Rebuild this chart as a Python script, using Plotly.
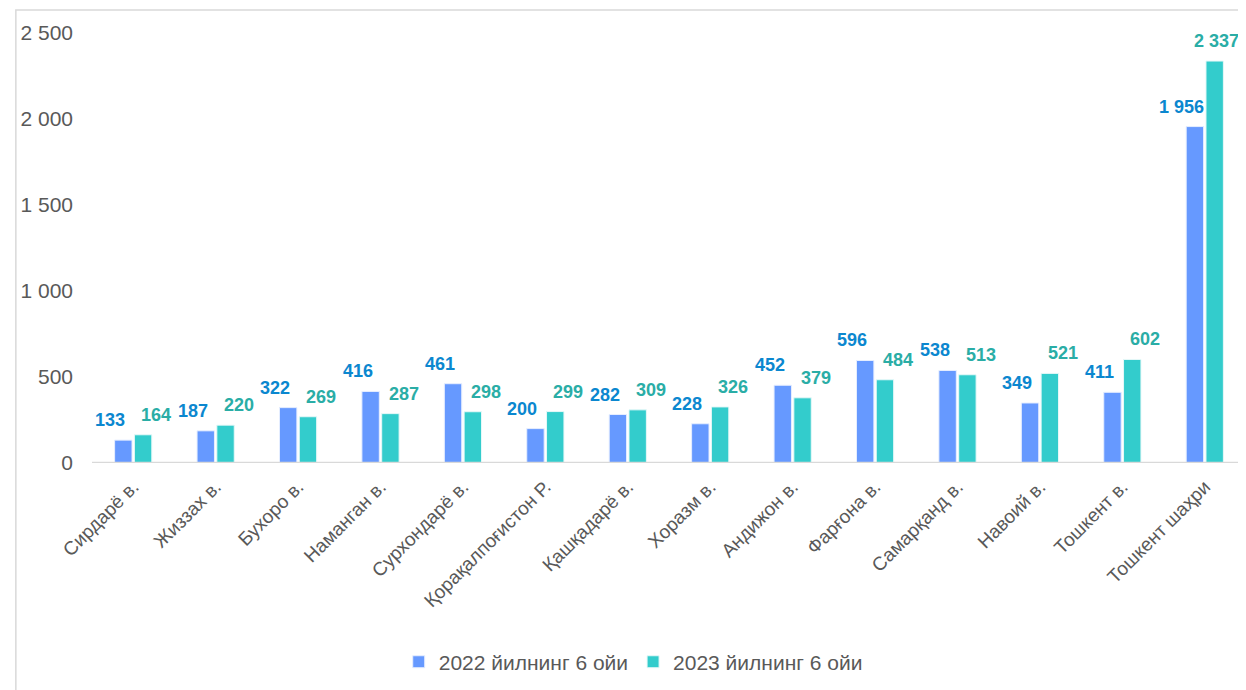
import plotly.graph_objects as go

categories = ["Сирдарё в.", "Жиззах в.", "Бухоро в.", "Наманган в.", "Сурхондарё в.",
              "Қорақалпоғистон Р.", "Қашқадарё в.", "Хоразм в.", "Андижон в.", "Фарғона в.",
              "Самарқанд в.", "Навоий в.", "Тошкент в.", "Тошкент шаҳри"]
values_2022 = [133, 187, 322, 416, 461, 200, 282, 228, 452, 596, 538, 349, 411, 1956]
values_2023 = [164, 220, 269, 287, 298, 299, 309, 326, 379, 484, 513, 521, 602, 2337]
series_names = ["2022 йилнинг 6 ойи", "2023 йилнинг 6 ойи"]
y_ticks = [0, 500, 1000, 1500, 2000, 2500]

FONT = "Liberation Sans, Arial, sans-serif"
BLUE_LBL = "#0B87CF"
TEAL_LBL = "#2AADA6"

def fmt(v):
    return f"{v:,}".replace(",", " ")

fig = go.Figure()
fig.add_trace(go.Bar(
    x=categories, y=values_2022, name=series_names[0],
    marker=dict(color="#6699FF", line=dict(color="#E6EEFF", width=1)),
))
fig.add_trace(go.Bar(
    x=categories, y=values_2023, name=series_names[1],
    marker=dict(color="#33CCCC", line=dict(color="#E6F8F8", width=1)),
))

n = len(categories)
annotations = []
for i, (cat, v) in enumerate(zip(categories, values_2022)):
    annotations.append(dict(x=cat, y=v, xref="x", yref="y", text=fmt(v), showarrow=False,
                            xanchor="center", yanchor="bottom", xshift=-23, yshift=8,
                            font=dict(family=FONT, size=18, color=BLUE_LBL, weight="bold")))
for i, (cat, v) in enumerate(zip(categories, values_2023)):
    annotations.append(dict(x=cat, y=v, xref="x", yref="y", text=fmt(v), showarrow=False,
                            xanchor="center", yanchor="bottom",
                            xshift=(12 if i == n - 1 else 23), yshift=8,
                            font=dict(family=FONT, size=18, color=TEAL_LBL, weight="bold")))

fig.update_layout(
    width=1238, height=682,
    margin=dict(l=84, r=0, t=25, b=227),
    paper_bgcolor="white", plot_bgcolor="white",
    barmode="group", bargap=0.52, bargroupgap=0.12,
    separators=". ",
    font=dict(family=FONT, color="#595959"),
    showlegend=True,
    legend=dict(orientation="h", x=0.469, xanchor="center", y=-0.463, yanchor="middle",
                font=dict(family=FONT, size=21, color="#595959"), traceorder="normal",
                itemwidth=30),
    xaxis=dict(tickangle=-45, showgrid=False, showline=False, ticks="",
               ticklabelstandoff=8,
               tickfont=dict(family=FONT, size=19, color="#595959")),
    yaxis=dict(range=[0, 2500], tickvals=y_ticks, ticktext=[fmt(v) for v in y_ticks],
               showgrid=False, zeroline=False, showline=False, ticks="",
               ticklabelstandoff=18,
               tickfont=dict(family=FONT, size=21, color="#595959")),
    annotations=annotations,
    shapes=[
        dict(type="line", xref="paper", yref="y", x0=0.0, x1=1.0, y0=0, y1=0,
             line=dict(color="#D9D9D9", width=2.5), layer="above"),
        dict(type="rect", xref="paper", yref="paper", x0=-0.066, x1=1.02,
             y0=-0.6, y1=1.0535, line=dict(color="#D9D9D9", width=1.5), layer="below"),
    ],
)

fig.write_html("out.html")
